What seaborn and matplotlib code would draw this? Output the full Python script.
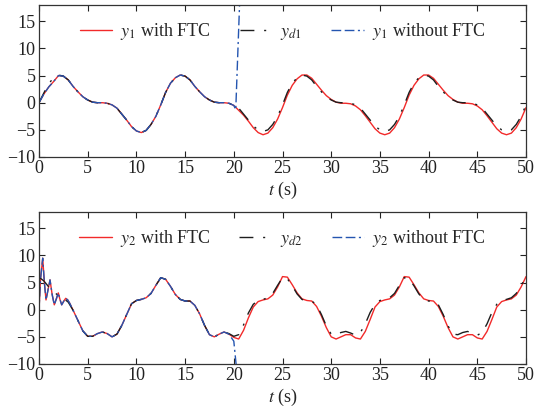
import numpy as np
import matplotlib
matplotlib.use("Agg")
import matplotlib.pyplot as plt
import seaborn as sns

# time grid (s), 0.5 s samples
t = np.arange(0, 50.01, 0.5)

# ---- top panel: y1 ----
yd1 = [0.0, 1.8, 3.5, 4.6, 5.1, 4.9, 4.2, 3.0, 2.0, 1.1,
       0.5, 0.1, 0.0, 0.0, -0.1, -0.4, -1.0, -2.1, -3.2, -4.4,
       -5.2, -5.5, -5.1, -4.0, -2.5, -0.4, 1.9, 3.6, 4.6, 5.1,
       4.9, 4.2, 3.0, 2.0, 1.1, 0.5, 0.1, 0.0, 0.0, -0.1,
       -0.4, -1.0, -2.1, -3.2, -4.3, -5.0, -5.3, -5.0, -4.0, -2.5,
       -0.4, 1.9, 3.6, 4.6, 5.1, 4.9, 4.2, 3.0, 2.0, 1.1,
       0.5, 0.1, 0.0, 0.0, -0.1, -0.4, -1.0, -2.1, -3.2, -4.3,
       -5.0, -5.3, -5.0, -4.0, -2.5, -0.4, 1.9, 3.6, 4.6, 5.1,
       4.9, 4.2, 3.0, 2.0, 1.1, 0.5, 0.1, 0.0, 0.0, -0.1,
       -0.4, -1.0, -2.1, -3.2, -4.3, -5.0, -5.3, -5.0, -4.0, -2.5,
       -0.4]
y1_ftc = [0.0, 1.6, 2.9, 3.9, 5.0, 4.9, 4.2, 3.0, 2.0, 1.1,
          0.5, 0.1, 0.0, 0.0, -0.1, -0.4, -1.0, -2.1, -3.2, -4.4,
          -5.2, -5.5, -5.1, -4.0, -2.5, -0.4, 1.9, 3.6, 4.6, 5.1,
          4.9, 4.2, 3.0, 2.0, 1.1, 0.5, 0.1, 0.0, 0.0, -0.1,
          -0.5, -1.4, -2.3, -3.4, -4.6, -5.5, -5.9, -5.6, -4.6, -3.0,
          -0.9, 1.4, 3.2, 4.4, 5.1, 5.1, 4.5, 3.4, 2.3, 1.3,
          0.6, 0.1, -0.1, -0.1, -0.2, -0.6, -1.3, -2.4, -3.6, -4.8,
          -5.6, -5.9, -5.6, -4.6, -3.0, -0.9, 1.4, 3.2, 4.4, 5.1,
          5.1, 4.5, 3.4, 2.3, 1.3, 0.6, 0.1, -0.1, -0.1, -0.2,
          -0.6, -1.3, -2.4, -3.6, -4.8, -5.6, -5.9, -5.6, -4.6, -3.0,
          -0.9]
# without FTC: follows y1 up to the fault at 20 s, then diverges upward
y1_nofault = y1_ftc[:41]
t1_tail = [20.2, 20.6, 21.0]
y1_tail = [-1.3, 18.5, 38.0]

# ---- bottom panel: y2 ----
yd2 = [6.0, 5.3, 4.2, 3.3, 2.6, 2.1, 1.4, -0.1, -2.0, -3.9,
       -4.9, -4.9, -4.4, -4.1, -4.4, -5.0, -4.5, -2.9, -0.9, 1.1,
       1.7, 1.9, 2.2, 3.0, 4.5, 5.9, 5.6, 4.3, 2.8, 1.9,
       1.6, 1.6, 0.8, -0.8, -2.9, -4.6, -5.0, -4.5, -4.1, -4.4,
       -4.9, -4.6, -2.8, -0.6, 1.0, 1.7, 1.9, 2.2, 3.0, 4.5,
       5.9, 5.7, 4.4, 2.9, 1.9, 1.6, 1.6, 0.9, -0.9, -3.0,
       -4.5, -4.6, -4.2, -4.0, -4.3, -4.7, -4.2, -2.6, -0.5, 1.0,
       1.7, 1.9, 2.2, 3.0, 4.5, 5.9, 5.7, 4.4, 2.9, 1.9,
       1.6, 1.6, 0.9, -0.9, -3.0, -4.5, -4.6, -4.2, -4.0, -4.3,
       -4.7, -4.2, -2.6, -0.5, 1.0, 1.7, 1.9, 2.2, 3.0, 4.5,
       5.9]
# start-up oscillation (first ~3 s)
t2_start = [0, 0.15, 0.38, 0.55, 0.72, 0.92, 1.13, 1.35, 1.57, 1.78,
            1.98, 2.15, 2.33, 2.55, 2.74, 2.95, 3.15]
y2_start = [0.0, 5.5, 9.5, 5.0, 1.8, 3.6, 5.5, 2.8, 0.9, 2.0,
            3.1, 1.9, 0.9, 1.6, 2.1, 1.8, 1.2]
# from t = 3.5 s on the 0.5 s grid
y2_ftc = [-0.1, -2.0, -3.9,
          -4.9, -4.9, -4.4, -4.1, -4.4, -5.0, -4.5, -2.9, -0.9, 1.1,
          1.7, 1.9, 2.2, 3.0, 4.5, 5.9, 5.6, 4.3, 2.8, 1.9,
          1.6, 1.6, 0.8, -0.8, -2.9, -4.6, -5.0, -4.5, -4.1, -4.5,
          -5.1, -5.4, -3.8, -1.5, 0.5, 1.5, 1.8, 2.0, 2.7, 4.2,
          6.1, 6.0, 4.6, 3.1, 2.0, 1.7, 1.6, 0.6, -1.2, -3.3,
          -5.0, -5.4, -5.0, -4.6, -4.6, -5.2, -5.4, -4.0, -1.8, 0.5,
          1.5, 1.8, 2.0, 2.7, 4.2, 6.1, 6.0, 4.6, 3.1, 2.0,
          1.7, 1.6, 0.6, -1.2, -3.3, -5.0, -5.4, -5.0, -4.6, -4.6,
          -5.2, -5.4, -4.0, -1.8, 0.5, 1.5, 1.8, 2.0, 2.7, 4.2,
          6.1]
y2_nofault = y2_ftc[:33]          # up to 19.5 s
t2_tail = [20.0, 20.4, 20.8]
y2_tail = [-5.8, -13.0, -30.0]

RED = "#f22a2a"
BLACK = "#1e1e1e"
BLUE = "#2455b0"
DASHDOT = (0, (10, 7, 1.5, 7))
BLUEDASH = (0, (7, 2.5, 7, 2.5, 1.5, 2.5))

sns.set_style("ticks")
plt.rcParams["font.family"] = ["Liberation Serif", "DejaVu Serif"]
plt.rcParams["mathtext.fontset"] = "stix"

fig = plt.figure(figsize=(5.38, 4.16), dpi=100)
ax1 = fig.add_axes([0.0725, 0.6226, 0.9052, 0.3654])
ax2 = fig.add_axes([0.0725, 0.125, 0.9052, 0.3654])

t_main = t
t_late = t[7:]

# top
sns.lineplot(x=t_main, y=y1_ftc, ax=ax1, color=RED, lw=1.0, sort=False,
             estimator=None, label=r"$y_1$ with FTC")
sns.lineplot(x=t_main, y=yd1, ax=ax1, color=BLACK, lw=1.0, linestyle=DASHDOT,
             sort=False, estimator=None, label=r"$y_{d1}$")
sns.lineplot(x=np.concatenate([t_main[:41], t1_tail]), y=y1_nofault + y1_tail,
             ax=ax1, color=BLUE, lw=1.0, linestyle=BLUEDASH, sort=False,
             estimator=None, label=r"$y_1$ without FTC")

# bottom
sns.lineplot(x=np.concatenate([t2_start, t_late]), y=y2_start + y2_ftc, ax=ax2,
             color=RED, lw=1.0, sort=False, estimator=None,
             label=r"$y_2$ with FTC")
sns.lineplot(x=t_main, y=yd2, ax=ax2, color=BLACK, lw=1.0, linestyle=DASHDOT,
             sort=False, estimator=None, label=r"$y_{d2}$")
sns.lineplot(x=np.concatenate([t2_start, t_late[:33], t2_tail]),
             y=y2_start + y2_nofault + y2_tail, ax=ax2, color=BLUE, lw=1.0,
             linestyle=BLUEDASH, sort=False, estimator=None,
             label=r"$y_2$ without FTC")

for ax in (ax1, ax2):
    ax.set_xlim(0, 50)
    ax.set_ylim(-10, 18)
    ax.set_xticks(np.arange(0, 51, 5))
    ax.set_yticks(np.arange(-10, 16, 5))
    ax.tick_params(direction="in", top=True, right=True, length=4,
                   width=0.8, labelsize=13, colors="#222222", pad=2.5)
    for sp in ax.spines.values():
        sp.set_visible(True)
        sp.set_linewidth(0.9)
        sp.set_color("#333333")
    ax.set_xlabel(r"$t$ (s)", fontsize=13, labelpad=2)
    ax.set_ylabel("")
    ax.legend(loc="upper center", bbox_to_anchor=(0.5, 1.0), ncol=3,
              frameon=False, fontsize=13, handlelength=1.8,
              handletextpad=0.45, columnspacing=1.6)

fig.savefig("out.png", dpi=100)
